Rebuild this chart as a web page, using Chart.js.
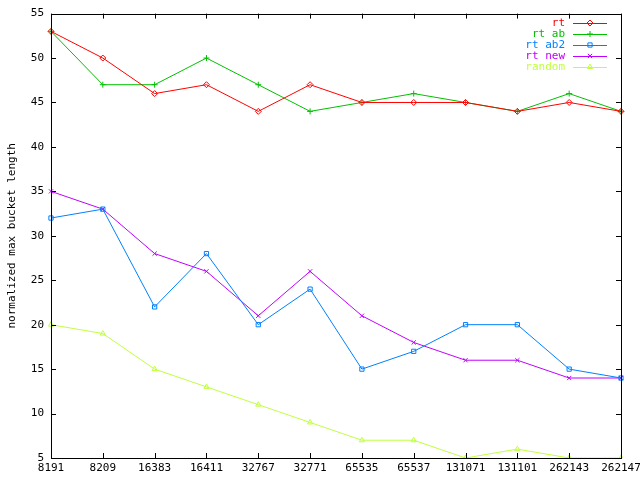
<!DOCTYPE html>
<html>
<head>
<meta charset="utf-8">
<script src="https://cdn.jsdelivr.net/npm/chart.js@4/dist/chart.umd.min.js"></script>
<style>
  html, body { margin: 0; padding: 0; background: #fff; }
  #wrap { width: 640px; height: 480px; }
</style>
</head>
<body>
<div id="wrap"><canvas id="c" width="640" height="480"></canvas></div>
<script>
const labels = ['8191', '8209', '16383', '16411', '32767', '32771', '65535', '65537', '131071', '131101', '262143', '262147'];
const rt     = [53, 50, 46, 47, 44, 47, 45, 45, 45, 44, 45, 44];
const rtAb   = [53, 47, 47, 50, 47, 44, 45, 46, 45, 44, 46, 44];
const rtAb2  = [32, 33, 22, 28, 20, 24, 15, 17, 20, 20, 15, 14];
const rtNew  = [35, 33, 28, 26, 21, 26, 21, 18, 16, 16, 14, 14];
const random = [20, 19, 15, 13, 11, 9, 7, 7, 5, 6, 5, 5];

const FONT = '"DejaVu Sans Mono", monospace';

function series(label, data, color, style) {
    return {
        label: label,
        data: data,
        borderColor: color,
        backgroundColor: 'rgba(0,0,0,0)',
        borderWidth: 1,
        pointStyle: style,
        pointRadius: 3,
        pointBorderWidth: 1,
        pointBorderColor: color,
        tension: 0
    };
}

// gnuplot style frame: box round the plot and ticks pointing inwards on all four sides
const framePlugin = {
    id: 'frame',
    afterDraw(chart) {
        const ctx = chart.ctx;
        const a = chart.chartArea;
        const xs = chart.scales.x, ys = chart.scales.y;
        ctx.save();
        ctx.strokeStyle = '#000';
        ctx.lineWidth = 1;
        ctx.strokeRect(Math.round(a.left) + 0.5, Math.round(a.top) + 0.5,
                       Math.round(a.right - a.left), Math.round(a.bottom - a.top));
        ctx.beginPath();
        const len = 5;
        xs.ticks.forEach((t, i) => {
            const px = Math.round(xs.getPixelForTick(i)) + 0.5;
            ctx.moveTo(px, a.bottom); ctx.lineTo(px, a.bottom - len);
            ctx.moveTo(px, a.top); ctx.lineTo(px, a.top + len);
        });
        ys.ticks.forEach((t, i) => {
            const py = Math.round(ys.getPixelForTick(i)) + 0.5;
            ctx.moveTo(a.left, py); ctx.lineTo(a.left + len, py);
            ctx.moveTo(a.right, py); ctx.lineTo(a.right - len, py);
        });
        ctx.stroke();

        // key, top right inside the plot
        ctx.font = '11px ' + FONT;
        ctx.textAlign = 'right';
        ctx.textBaseline = 'middle';
        chart.data.datasets.forEach((ds, i) => {
            const y = 23 + i * 11;
            ctx.fillStyle = ds.borderColor;
            ctx.fillText(ds.label, 565, y);
            ctx.strokeStyle = ds.borderColor;
            ctx.beginPath();
            ctx.moveTo(573, y + 0.5); ctx.lineTo(607, y + 0.5);
            ctx.stroke();
            ctx.fillStyle = 'rgba(0,0,0,0)';
            Chart.helpers.drawPoint(ctx, {pointStyle: ds.pointStyle, radius: 3, borderWidth: 1}, 590, y);
        });
        ctx.restore();
    }
};

new Chart(document.getElementById('c').getContext('2d'), {
    type: 'line',
    data: {
        labels: labels,
        datasets: [
            series('rt', rt, '#ff0000', 'rectRot'),
            series('rt ab', rtAb, '#00c000', 'cross'),
            series('rt ab2', rtAb2, '#0080ff', 'rect'),
            series('rt new', rtNew, '#c000ff', 'crossRot'),
            series('random', random, '#c0ff40', 'triangle')
        ]
    },
    options: {
        responsive: false,
        animation: false,
        layout: { padding: { top: 13, right: 19, left: 0, bottom: 0 } },
        plugins: { legend: { display: false }, tooltip: { enabled: false } },
        scales: {
            x: {
                offset: false,
                grid: { display: false, drawTicks: false },
                border: { display: false },
                ticks: { color: '#000', font: { family: FONT, size: 11 }, padding: 4, maxRotation: 0, autoSkip: false },
                afterFit(s) { s.height = 22; s.paddingLeft = 0; s.paddingRight = 0; }
            },
            y: {
                min: 5, max: 55,
                grid: { display: false, drawTicks: false },
                border: { display: false },
                ticks: { stepSize: 5, color: '#000', font: { family: FONT, size: 11 }, padding: 7 },
                title: { display: true, text: 'normalized max bucket length', color: '#000', font: { family: FONT, size: 11 }, padding: { top: 6, bottom: 0 } },
                afterFit(s) { s.width = 51; }
            }
        }
    },
    plugins: [framePlugin]
});
</script>
</body>
</html>
